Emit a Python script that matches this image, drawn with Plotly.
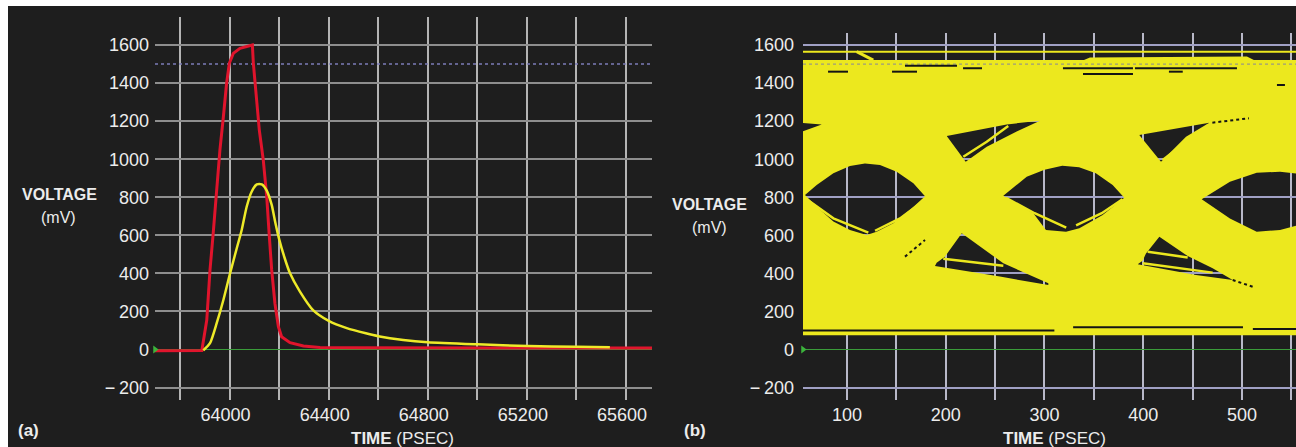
import plotly.graph_objects as go

# ---------------- shared axis ticks ----------------
VOLT_TICKS = [-200, 0, 200, 400, 600, 800, 1000, 1200, 1400, 1600]
VOLT_LABELS = ["\u2212\u2009200", "0", "200", "400", "600", "800", "1000", "1200", "1400", "1600"]

# ---------------- panel (a): single-pulse response ----------------
TIME_A_GRID = [63800, 64000, 64200, 64400, 64600, 64800, 65000, 65200, 65400, 65600]
TIME_A_LABELS = ["", "64000", "", "64400", "", "64800", "", "65200", "", "65600"]
TIME_A_RANGE = [63699, 65705]

# transmitted pulse (red)
RED_T = [63699, 63850, 63888, 63908, 63921, 63934, 63948, 63961, 63975, 63988, 63999,
         64015, 64042, 64065, 64083, 64092, 64096, 64103, 64120, 64136, 64150, 64160,
         64170, 64183, 64197, 64210, 64244, 64298, 64365, 64500, 65000, 65705]
RED_V = [-6, -6, -5, 155, 418, 611, 855, 1048, 1223, 1399, 1504,
         1556, 1583, 1592, 1597, 1600, 1504, 1399, 1153, 996, 803, 602,
         418, 243, 120, 67, 36, 18, 11, 9, 9, 8]

# received pulse after the channel (yellow)
YEL_T = [63894, 63921, 63948, 63975, 64002, 64029, 64049, 64069, 64089, 64110, 64130,
         64150, 64170, 64185, 64200, 64220, 64244, 64284, 64338, 64400, 64473, 64550,
         64600, 64701, 64800, 65000, 65205, 65400, 65535]
YEL_V = [-5, 33, 138, 260, 400, 532, 628, 750, 829, 868, 868,
         835, 760, 665, 580, 490, 400, 304, 205, 150, 112, 85,
         70, 50, 38, 27, 18, 15, 12]

REF_LEVEL = 1500

# ---------------- panel (b): eye diagram ----------------
TIME_B_GRID = [100, 150, 200, 250, 300, 350, 400, 450, 500, 550]
TIME_B_LABELS = ["100", "", "200", "", "300", "", "400", "", "500", ""]
TIME_B_RANGE = [55.44, 554.7]

# outer envelope of the overlaid traces
ENV_T = [50, 340, 346, 505, 512, 560, 560, 50]
ENV_V = [1521, 1521, 1535, 1540, 1521, 1521, 75, 75]

# open eyes
EYE1_T = [57.5, 69.3, 86.2, 103, 118.2, 133.4, 150.3, 167.2, 179, 163.8, 146.9, 130, 119.9, 103, 86.2, 69.3]
EYE1_V = [812, 864, 926, 964, 978, 969, 934, 873, 805, 733, 663, 619, 602, 628, 672, 750]
EYE2_T = [258.3, 282, 300, 318, 335, 352, 369, 380.8, 358.9, 335.3, 321.8, 301.5, 288.7]
EYE2_V = [808, 908, 945, 965, 958, 926, 864, 797, 707, 637, 619, 628, 716]
EYE3_T = [459.2, 487.8, 514.9, 538.5, 556, 556, 538.5, 514.9, 487.8]
EYE3_V = [789, 882, 929, 934, 924, 652, 628, 619, 689]

# upper and lower gaps around the crossings
NOTCH_T = [52, 74.4, 52]
NOTCH_V = [1192, 1182, 1140]
TRI_A_T = [201, 261.7, 295.4, 271.8, 241.5, 220.2]
TRI_A_V = [1122, 1183, 1202, 1145, 1066, 987]
TRI_B_T = [396, 466.9, 443.3, 418]
TRI_B_V = [1127, 1192, 1118, 987]
TRI_C_T = [216.2, 258.3, 303.9, 303.9, 254.9, 189.1, 190.8, 199.2]
TRI_C_V = [611, 453, 348, 339, 383, 439, 456, 488]
TRI_D_T = [416.3, 445, 470.3, 490.6, 453.4, 394.4, 399.4, 402.8]
TRI_D_V = [593, 491, 427, 365, 391, 448, 467, 505]

# isolated trajectories running through the gaps
TRACE_T = [[59.2, 86.2, 121.6], [128.4, 153.7, 180.7], [261, 290, 322], [332, 358, 379],
           [217.8, 241.5, 263.3], [419.7, 443.3, 466], [197.5, 258.3], [404.5, 445],
           [399.4, 470.3]]
TRACE_V = [[789, 689, 614], [624, 689, 794], [797, 716, 640], [652, 716, 790],
           [1013, 1092, 1174], [996, 1092, 1180], [477, 440], [514, 484],
           [453, 404]]

# top rail and the overshoot joining it
RAIL_T = [50, 560]
RAIL_V = [1565, 1565]
RAMP_T = [109.8, 126.6]
RAMP_V = [1565, 1521]

# thin empty streaks inside the envelope
STREAK_T = [80.8, 101, None, 145.6, 170.9, None, 426, 440, None,
            158.7, 211.4, None, 318.7, 389.6, None, 391.6, 494.9, None, 217.5, 236.7, None,
            339, 389.6, None, 535.4, 543.5, None,
            55, 310, None, 329, 501, None, 511, 555]
STREAK_V = [1460, 1460, None, 1460, 1460, None, 1460, 1460, None,
            1491, 1491, None, 1478, 1478, None, 1478, 1478, None, 1478, 1478, None,
            1448, 1448, None, 1390, 1390, None,
            100, 100, None, 117, 117, None, 108, 108]
DOTTED_T = [[158.7, 179], [470, 507], [490.6, 510.8]]
DOTTED_V = [[488, 575], [1192, 1215], [365, 330]]

# ---------------- styling ----------------
W, H = 1296, 447
BG = "#1e1e1e"
EYE_YELLOW = "#ece81e"
FONT = "Liberation Sans, Arial, sans-serif"
TXT = "#ececec"


def oriented(ts, vs, ccw):
    """Return the closed ring with the requested winding (holes run opposite)."""
    n = len(ts)
    area = sum(ts[i] * vs[(i + 1) % n] - ts[(i + 1) % n] * vs[i] for i in range(n))
    if (area > 0) != ccw:
        ts, vs = ts[::-1], vs[::-1]
    return list(ts) + [ts[0]], list(vs) + [vs[0]]


fig = go.Figure()

# --- panel (a) traces ---
fig.add_trace(go.Scatter(x=TIME_A_RANGE, y=[REF_LEVEL, REF_LEVEL], mode="lines",
                         line=dict(color="#7c7cb8", width=1.5, dash="dot"),
                         xaxis="x", yaxis="y", hoverinfo="skip"))
fig.add_trace(go.Scatter(x=RED_T, y=RED_V, mode="lines",
                         line=dict(color="#e0142c", width=3),
                         xaxis="x", yaxis="y"))
fig.add_trace(go.Scatter(x=YEL_T, y=YEL_V, mode="lines",
                         line=dict(color="#eeea28", width=2.5, shape="spline", smoothing=0.6),
                         xaxis="x", yaxis="y"))
fig.add_trace(go.Scatter(x=[TIME_A_RANGE[0]], y=[0], mode="markers",
                         marker=dict(symbol="triangle-right", size=7, color="#3cb43c"),
                         cliponaxis=False, xaxis="x", yaxis="y"))

# --- panel (b) traces ---
rings_t, rings_v = oriented(ENV_T, ENV_V, True)
for ts, vs in [(EYE1_T, EYE1_V), (EYE2_T, EYE2_V), (EYE3_T, EYE3_V), (NOTCH_T, NOTCH_V),
               (TRI_A_T, TRI_A_V), (TRI_B_T, TRI_B_V), (TRI_C_T, TRI_C_V), (TRI_D_T, TRI_D_V)]:
    ht, hv = oriented(ts, vs, False)
    rings_t += [None] + ht
    rings_v += [None] + hv
fig.add_trace(go.Scatter(x=rings_t, y=rings_v, mode="lines", fill="toself",
                         fillcolor=EYE_YELLOW, line=dict(width=0, color=EYE_YELLOW),
                         xaxis="x2", yaxis="y2", hoverinfo="skip"))
for ts, vs in zip(TRACE_T, TRACE_V):
    fig.add_trace(go.Scatter(x=ts, y=vs, mode="lines", line=dict(color=EYE_YELLOW, width=2.5),
                             xaxis="x2", yaxis="y2", hoverinfo="skip"))
fig.add_trace(go.Scatter(x=RAIL_T, y=RAIL_V, mode="lines", line=dict(color=EYE_YELLOW, width=2),
                         xaxis="x2", yaxis="y2", hoverinfo="skip"))
fig.add_trace(go.Scatter(x=RAMP_T, y=RAMP_V, mode="lines", line=dict(color=EYE_YELLOW, width=3),
                         xaxis="x2", yaxis="y2", hoverinfo="skip"))
fig.add_trace(go.Scatter(x=TIME_B_RANGE, y=[REF_LEVEL, REF_LEVEL], mode="lines",
                         line=dict(color="#9a9a80", width=1.3, dash="dot"),
                         xaxis="x2", yaxis="y2", hoverinfo="skip"))
fig.add_trace(go.Scatter(x=STREAK_T, y=STREAK_V, mode="lines", connectgaps=False,
                         line=dict(color="#141414", width=2),
                         xaxis="x2", yaxis="y2", hoverinfo="skip"))
for ts, vs in zip(DOTTED_T, DOTTED_V):
    fig.add_trace(go.Scatter(x=ts, y=vs, mode="lines", line=dict(color="#141414", width=2, dash="dot"),
                             xaxis="x2", yaxis="y2", hoverinfo="skip"))
fig.add_trace(go.Scatter(x=[TIME_B_RANGE[0]], y=[0], mode="markers",
                         marker=dict(symbol="triangle-right", size=7, color="#3cb43c"),
                         cliponaxis=False, xaxis="x2", yaxis="y2"))

# ---------------- axes ----------------
def px_x(p):
    return p / W


def px_y(p):
    return 1 - p / H


tick_font = dict(family=FONT, size=18, color=TXT)
common_x = dict(showline=False, zeroline=False, ticks="", tickfont=tick_font,
                showgrid=True, gridwidth=1.5, tickmode="array", fixedrange=True)
common_y = dict(showline=False, ticks="", tickfont=tick_font, showgrid=True, gridwidth=1.5,
                tickmode="array", tickvals=VOLT_TICKS, ticktext=VOLT_LABELS,
                zeroline=True, zerolinecolor="#3a9c3a", zerolinewidth=1.2, fixedrange=True)

fig.update_layout(
    width=W, height=H,
    margin=dict(l=0, r=0, t=0, b=0),
    paper_bgcolor=BG, plot_bgcolor=BG,
    showlegend=False,
    xaxis=dict(domain=[px_x(155), px_x(652)], range=TIME_A_RANGE, anchor="y",
               tickvals=TIME_A_GRID, ticktext=TIME_A_LABELS, gridcolor="#b4b4b4",
               ticklabelshift=-4, ticklabelstandoff=2, **common_x),
    yaxis=dict(domain=[px_y(400), px_y(17)], range=[-265.4, 1747.2], anchor="x",
               gridcolor="#8e8e8e", ticklabelstandoff=5, **common_y),
    xaxis2=dict(domain=[px_x(803), 1.0], range=TIME_B_RANGE, anchor="y2",
                tickvals=TIME_B_GRID, ticktext=TIME_B_LABELS, gridcolor="#b8b8c8",
                ticklabelstandoff=2, **common_x),
    yaxis2=dict(domain=[px_y(400), px_y(33)], range=[-265.4, 1663.2], anchor="x2",
                gridcolor="#a0a0c4", ticklabelstandoff=8, **common_y),
)

# white border strips of the figure frame
fig.add_shape(type="rect", xref="paper", yref="paper", x0=0, x1=1, y0=px_y(6), y1=1,
              fillcolor="white", line=dict(width=0), layer="above")
fig.add_shape(type="rect", xref="paper", yref="paper", x0=0, x1=px_x(8), y0=0, y1=1,
              fillcolor="white", line=dict(width=0), layer="above")

# ---------------- labels ----------------
def label(text, x, y, size):
    fig.add_annotation(text=text, xref="paper", yref="paper", x=px_x(x), y=px_y(y),
                       xanchor="center", yanchor="middle", showarrow=False,
                       font=dict(family=FONT, size=size, color=TXT))


label("<b>VOLTAGE</b>", 59, 195, 16)
label("(mV)", 58, 217, 16)
label("<b>VOLTAGE</b>", 709, 204, 16)
label("(mV)", 709, 227, 16)
label("<b>TIME</b> (PSEC)", 402, 438, 17)
label("<b>TIME</b> (PSEC)", 1054, 438, 17)
label("<b>(a)</b>", 28, 430, 17)
label("<b>(b)</b>", 695, 430, 17)

fig.write_html("out.html")
